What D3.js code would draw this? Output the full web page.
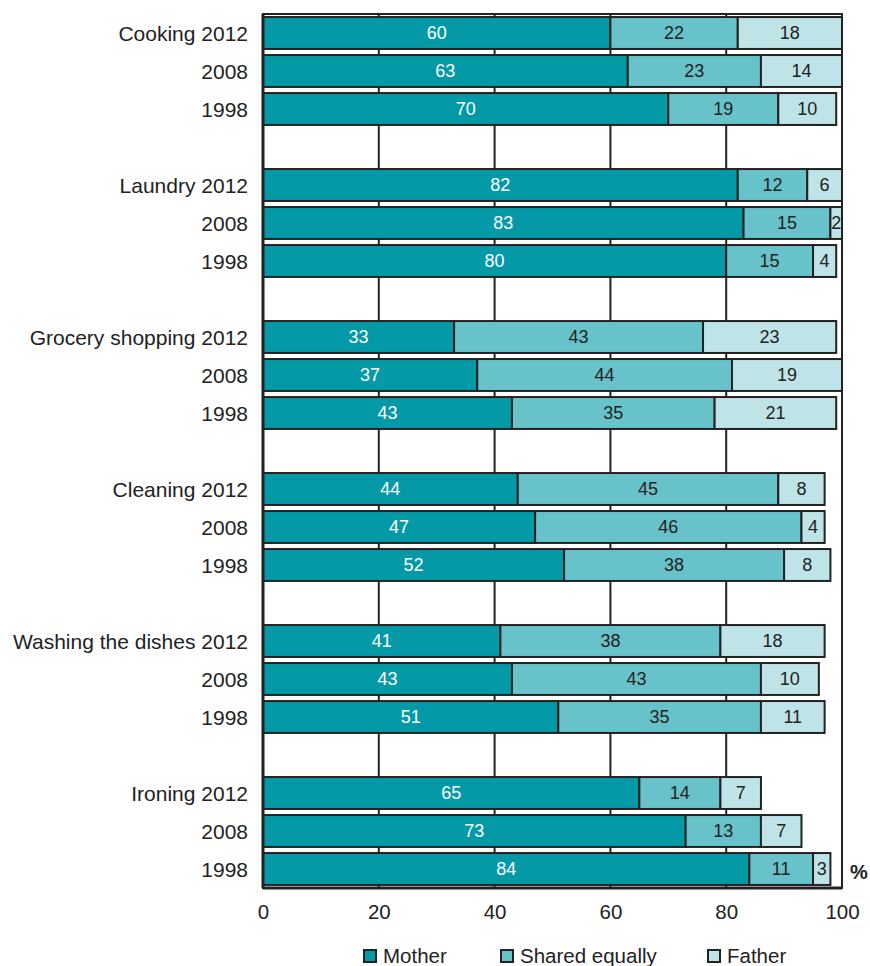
<!DOCTYPE html>
<html>
<head>
<meta charset="utf-8">
<script src="https://cdn.jsdelivr.net/npm/d3@7"></script>
<style>
  html, body { margin: 0; padding: 0; background: #fff; }
  svg { display: block; font-family: "Liberation Sans", Arial, sans-serif; }
</style>
</head>
<body>
<svg id="chart" width="870" height="966"></svg>
<script>
// Household tasks: who does them, share of answers (%)
const tasks = ["Cooking", "Laundry", "Grocery shopping", "Cleaning", "Washing the dishes", "Ironing"];
const years = ["2012", "2008", "1998"];
const seriesNames = ["Mother", "Shared equally", "Father"];
const seriesColors = ["#0499a6", "#68c2c9", "#bfe4e8"];
const labelColors = ["#ffffff", "#222222", "#222222"];

const mother = [60, 63, 70, 82, 83, 80, 33, 37, 43, 44, 47, 52, 41, 43, 51, 65, 73, 84];
const shared = [22, 23, 19, 12, 15, 15, 43, 44, 35, 45, 46, 38, 38, 43, 35, 14, 13, 11];
const father = [18, 14, 10, 6, 2, 4, 23, 19, 21, 8, 4, 8, 18, 10, 11, 7, 7, 3];

const xTicks = [0, 20, 40, 60, 80, 100];

const svg = d3.select("#chart");
const plotLeft = 263, plotRight = 842, plotTop = 14, plotBottom = 888;

// Rows: three years per task, with an empty slot after each group
const rows = [];
tasks.forEach((t, gi) => {
  years.forEach((yr, yi) => {
    const i = gi * 3 + yi;
    rows.push({ key: t + "|" + yr, label: yi === 0 ? t + " " + yr : yr,
      values: [mother[i], shared[i], father[i]] });
  });
});
const slots = [];
tasks.forEach((t, gi) => {
  years.forEach(yr => slots.push(t + "|" + yr));
  if (gi < tasks.length - 1) slots.push("gap" + gi);
});

const x = d3.scaleLinear().domain([0, 100]).range([plotLeft, plotRight]);
const y = d3.scaleBand().domain(slots).range([plotTop, plotBottom]).paddingInner(0.16).paddingOuter(0.08);

// Vertical gridlines
svg.append("g").selectAll("line")
  .data(xTicks.filter(d => d > 0 && d < 100))
  .join("line")
  .attr("x1", d => x(d)).attr("x2", d => x(d))
  .attr("y1", plotTop).attr("y2", plotBottom)
  .attr("stroke", "#222").attr("stroke-width", 2);

// Plot frame
svg.append("rect")
  .attr("x", plotLeft).attr("y", plotTop)
  .attr("width", plotRight - plotLeft).attr("height", plotBottom - plotTop)
  .attr("fill", "none").attr("stroke", "#222").attr("stroke-width", 2);

// Stacked bars
const rowG = svg.append("g").selectAll("g").data(rows).join("g");
rowG.each(function(r) {
  const g = d3.select(this);
  let acc = 0;
  r.values.forEach((v, si) => {
    const x0 = acc, x1 = acc + v;
    acc = x1;
    g.append("rect")
      .attr("x", x(x0)).attr("y", y(r.key))
      .attr("width", x(x1) - x(x0)).attr("height", y.bandwidth())
      .attr("fill", seriesColors[si])
      .attr("stroke", "#222").attr("stroke-width", 2);
    g.append("text")
      .attr("x", (x(x0) + x(x1)) / 2)
      .attr("y", y(r.key) + y.bandwidth() / 2)
      .attr("dy", "0.36em")
      .attr("text-anchor", "middle")
      .attr("font-size", 18)
      .attr("fill", labelColors[si])
      .text(v);
  });
});

// Left and bottom axis lines (thicker)
svg.append("line")
  .attr("x1", plotLeft).attr("x2", plotLeft).attr("y1", plotTop).attr("y2", plotBottom)
  .attr("stroke", "#222").attr("stroke-width", 3);
svg.append("line")
  .attr("x1", plotLeft).attr("x2", plotRight).attr("y1", plotBottom).attr("y2", plotBottom)
  .attr("stroke", "#222").attr("stroke-width", 3);

// Category labels
svg.append("g").selectAll("text").data(rows).join("text")
  .attr("x", 248)
  .attr("y", d => y(d.key) + y.bandwidth() / 2)
  .attr("dy", "0.36em")
  .attr("text-anchor", "end")
  .attr("font-size", 21)
  .attr("fill", "#222")
  .text(d => d.label);

// X axis tick labels
const xAxis = d3.axisBottom(x).tickValues(xTicks).tickSize(0).tickPadding(16);
const ax = svg.append("g").attr("transform", `translate(0,${plotBottom})`).call(xAxis);
ax.select(".domain").remove();
ax.selectAll("text").attr("font-size", 20.5).attr("fill", "#222")
  .attr("font-family", "Liberation Sans, Arial, sans-serif");

// Unit marker
svg.append("text")
  .attr("x", 850).attr("y", 872).attr("dy", "0.36em")
  .attr("font-size", 20).attr("font-weight", "bold").attr("fill", "#222")
  .text("%");

// Legend
const legendX = [364, 501, 708];
const lg = svg.append("g").selectAll("g").data(seriesNames).join("g")
  .attr("transform", (d, i) => `translate(${legendX[i]},956)`);
lg.append("rect")
  .attr("x", 0).attr("y", -6).attr("width", 12).attr("height", 12)
  .attr("fill", (d, i) => seriesColors[i]).attr("stroke", "#222").attr("stroke-width", 2);
lg.append("text")
  .attr("x", 19).attr("y", 0).attr("dy", "0.36em")
  .attr("font-size", 20.5).attr("fill", "#222")
  .text(d => d);
</script>
</body>
</html>
